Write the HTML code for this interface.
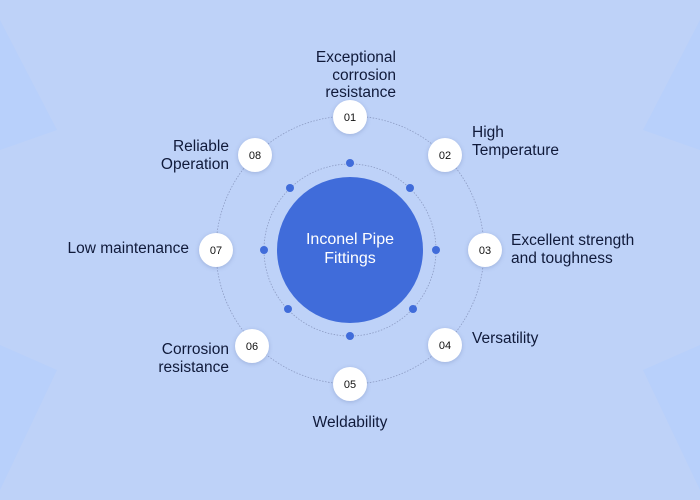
<!DOCTYPE html>
<html><head><meta charset="utf-8"><style>
html,body{margin:0;padding:0;width:700px;height:500px;overflow:hidden;background:#bed2f8;}
svg{display:block}
text{font-family:"Liberation Sans",sans-serif;}
</style></head><body>
<svg width="700" height="500" viewBox="0 0 700 500">
<rect width="700" height="500" fill="#bed2f8"/>
<polygon points="0,20 57,130 0,150" fill="#b8d0fb"/>
<polygon points="0,345 57,370 0,490" fill="#b8d0fb"/>
<polygon points="700,20 643,130 700,150" fill="#b8d0fb"/>
<polygon points="700,345 643,370 700,490" fill="#b8d0fb"/>
<circle cx="350" cy="250" r="134" fill="none" stroke="#8d9cc4" stroke-width="0.8" stroke-dasharray="1.5 1.5"/>
<circle cx="350" cy="250" r="86" fill="none" stroke="#8d9cc4" stroke-width="0.8" stroke-dasharray="1.5 1.5"/>
<circle cx="350" cy="250" r="73" fill="#406cda"/>
<g fill="#406cda">
<circle cx="350" cy="163" r="4"/><circle cx="410" cy="188" r="4"/><circle cx="436" cy="250" r="4"/><circle cx="413" cy="309" r="4"/>
<circle cx="350" cy="336" r="4"/><circle cx="288" cy="309" r="4"/><circle cx="264" cy="250" r="4"/><circle cx="290" cy="188" r="4"/>
</g>
<text x="350" y="244" font-size="16" fill="#fff" text-anchor="middle">Inconel Pipe</text>
<text x="350" y="263" font-size="16" fill="#fff" text-anchor="middle">Fittings</text>
<g fill="#fff" style="filter:drop-shadow(0 1px 2px rgba(60,80,140,0.25))">
<circle cx="350" cy="117" r="17"/><circle cx="445" cy="155" r="17"/><circle cx="485" cy="250" r="17"/><circle cx="445" cy="345" r="17"/>
<circle cx="350" cy="384" r="17"/><circle cx="252" cy="346" r="17"/><circle cx="216" cy="250" r="17"/><circle cx="255" cy="155" r="17"/>
</g>
<g font-size="11" fill="#111" text-anchor="middle">
<text x="350" y="121">01</text><text x="445" y="159">02</text><text x="485" y="254">03</text><text x="445" y="349">04</text>
<text x="350" y="388">05</text><text x="252" y="350">06</text><text x="216" y="254">07</text><text x="255" y="159">08</text>
</g>
<g font-size="15.5" fill="#101a3a">
<text x="396" y="62" text-anchor="end">Exceptional</text>
<text x="396" y="80" text-anchor="end">corrosion</text>
<text x="396" y="97" text-anchor="end">resistance</text>
<text x="472" y="137">High</text>
<text x="472" y="155">Temperature</text>
<text x="511" y="245">Excellent strength</text>
<text x="511" y="263">and toughness</text>
<text x="472" y="343">Versatility</text>
<text x="350" y="427" text-anchor="middle">Weldability</text>
<text x="229" y="354" text-anchor="end">Corrosion</text>
<text x="229" y="372" text-anchor="end">resistance</text>
<text x="189" y="253" text-anchor="end">Low maintenance</text>
<text x="229" y="151" text-anchor="end">Reliable</text>
<text x="229" y="169" text-anchor="end">Operation</text>
</g>
</svg>
</body></html>
